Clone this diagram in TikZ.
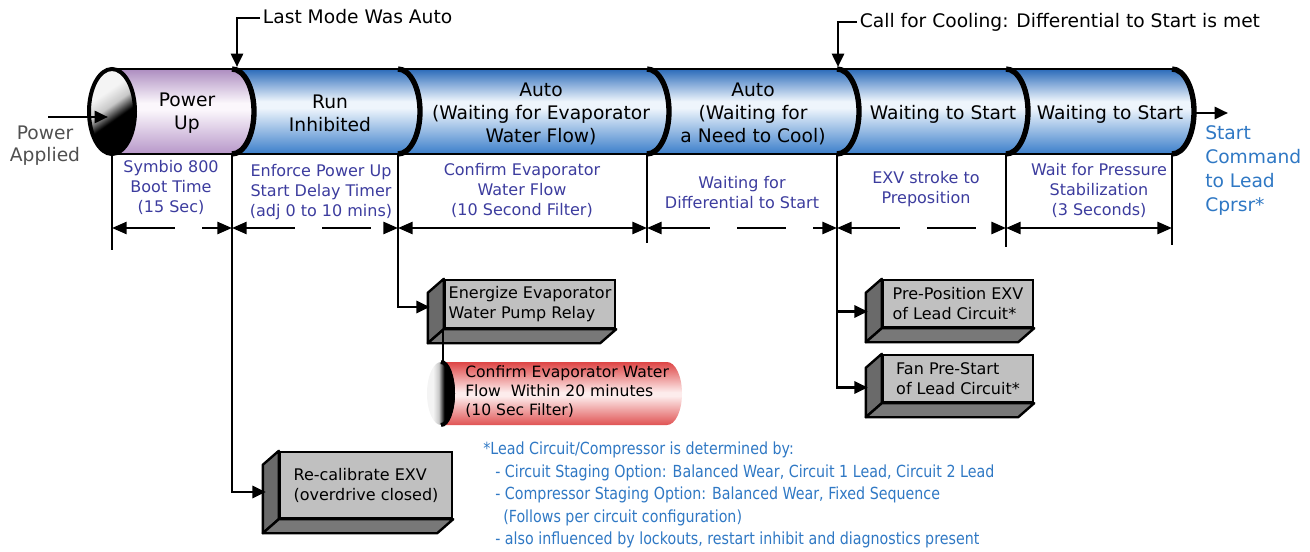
\documentclass[tikz,border=0pt]{standalone}
\usepackage{fontspec}
\setmainfont{DejaVu Sans}
\newfontfamily\notefont[FakeStretch=0.855]{DejaVu Sans}
\usetikzlibrary{arrows.meta,calc,shadings}
\definecolor{bTop}{HTML}{2B6BBA}
\definecolor{bMid}{HTML}{EEF5FC}
\definecolor{bBot}{HTML}{3B7ECA}
\definecolor{pTop}{HTML}{AD8DC0}
\definecolor{pMid}{HTML}{FBF7FC}
\definecolor{pBot}{HTML}{B797C9}
\definecolor{rTop}{HTML}{DE4545}
\definecolor{rMid}{HTML}{FDECEC}
\definecolor{rBot}{HTML}{E05353}
\definecolor{subblue}{HTML}{3C3C9E}
\definecolor{noteblue}{HTML}{2F78C4}
\definecolor{boxfront}{HTML}{C0C0C0}
\definecolor{boxside}{HTML}{6A6A6A}
\definecolor{boxbottom}{HTML}{787878}
\definecolor{labgray}{HTML}{505050}
\definecolor{faceLight}{HTML}{F4F4F4}
\definecolor{faceGray}{HTML}{C8C8C8}
\pgfdeclareverticalshading{bluecyl}{100bp}{color(0bp)=(bBot); color(25bp)=(bBot); color(52bp)=(bMid); color(56bp)=(bMid); color(75bp)=(bTop); color(100bp)=(bTop)}
\pgfdeclareverticalshading{purplecyl}{100bp}{color(0bp)=(pBot); color(25bp)=(pBot); color(51bp)=(pMid); color(55bp)=(pMid); color(75bp)=(pTop); color(100bp)=(pTop)}
\pgfdeclareverticalshading{redcyl}{100bp}{color(0bp)=(rBot); color(25bp)=(rBot); color(48bp)=(rMid); color(51bp)=(rMid); color(75bp)=(rTop); color(100bp)=(rTop)}
\pgfdeclareverticalshading{facesh}{100bp}{color(0bp)=(black); color(44bp)=(black); color(54bp)=(faceGray); color(64bp)=(faceLight); color(100bp)=(faceLight)}
\newcommand\boxfaces[1]{%
  \draw[line width=1.8pt, fill=boxside, line join=round] (#1.north west) -- ++(-16,14) -- ($(#1.south west)+(-16,14)$) -- (#1.south west) -- cycle;
  \draw[line width=1.8pt, fill=boxbottom, line join=round] (#1.south west) -- ++(-16,14) -- ($(#1.south east)+(-16,14)$) -- (#1.south east) -- cycle;
}
\begin{document}
\begin{tikzpicture}[x=0.75pt,y=-0.75pt,
  cyltext/.style={align=center, font=\fontsize{14}{17.25}\selectfont, text=black, inner sep=0pt},
  subtext/.style={align=center, font=\fontsize{12}{15}\selectfont, text=subblue, inner sep=0pt},
  toplab/.style={font=\fontsize{14}{17}\selectfont, text=black, inner sep=2pt},
  dimarrow/.style={line width=2pt, {Triangle[length=11pt,width=9pt]}-{Triangle[length=11pt,width=9pt]}},
  dimdash/.style={dimarrow, dash pattern=on 37pt off 20pt},
  bound/.style={line width=2pt},
  sepline/.style={line width=4pt},
  conn/.style={line width=2pt, -{Triangle[length=10pt,width=9pt]}},
  box3d/.style={draw=black, line width=1.8pt, fill=boxfront, align=left, font=\fontsize{12}{15}\selectfont, inner sep=2pt},
]
\useasboundingbox (0,0) rectangle (1310,552);

% ---- main cylinder segments ----
\shade[shading=purplecyl] (112,69) -- (232,69) arc[start angle=-90,end angle=90,x radius=22,y radius=42.5] -- (112,154) arc[start angle=90,end angle=-90,x radius=22,y radius=42.5] -- cycle;
\shade[shading=bluecyl] (232,69) -- (398,69) arc[start angle=-90,end angle=90,x radius=22,y radius=42.5] -- (232,154) arc[start angle=90,end angle=-90,x radius=22,y radius=42.5] -- cycle;
\shade[shading=bluecyl] (398,69) -- (647,69) arc[start angle=-90,end angle=90,x radius=22,y radius=42.5] -- (398,154) arc[start angle=90,end angle=-90,x radius=22,y radius=42.5] -- cycle;
\shade[shading=bluecyl] (647,69) -- (837,69) arc[start angle=-90,end angle=90,x radius=22,y radius=42.5] -- (647,154) arc[start angle=90,end angle=-90,x radius=22,y radius=42.5] -- cycle;
\shade[shading=bluecyl] (837,69) -- (1006,69) arc[start angle=-90,end angle=90,x radius=22,y radius=42.5] -- (837,154) arc[start angle=90,end angle=-90,x radius=22,y radius=42.5] -- cycle;
\shade[shading=bluecyl] (1006,69) -- (1172,69) arc[start angle=-90,end angle=90,x radius=22,y radius=42.5] -- (1006,154) arc[start angle=90,end angle=-90,x radius=22,y radius=42.5] -- cycle;

% outline
\draw[line width=1.3pt] (112,69) -- (1172,69);
\draw[line width=1.3pt] (112,154) -- (1172,154);
\foreach \xx in {232,398,647,837,1006,1172}
  \draw[sepline] (\xx,69) arc[start angle=-90,end angle=90,x radius=22,y radius=42.5];

% left end face
\shade[shading=facesh, shading angle=35] (112,111.5) ellipse[x radius=23, y radius=42.5];
\draw[line width=3pt] (112,111.5) ellipse[x radius=23, y radius=42.5];

% coordinates
\coordinate (s0) at (112,154);
\coordinate (s1) at (232,154);
\coordinate (s2) at (398,154);
\coordinate (s3) at (647,154);
\coordinate (s4) at (837,154);
\coordinate (s5) at (1006,154);
\coordinate (s6) at (1172,154);
\coordinate (d0) at (112,228);
\coordinate (d1) at (232,228);
\coordinate (d2) at (398,228);
\coordinate (d3) at (647,228);
\coordinate (d4) at (837,228);
\coordinate (d5) at (1006,228);
\coordinate (d6) at (1172,228);

% power applied
\node[font=\fontsize{14}{16.5}\selectfont, text=labgray, align=center, inner sep=0pt] (pa) at (45,146) {Power\\Applied};
\coordinate (pain) at (48,117);
\coordinate (paend) at (108,117);
\draw[conn] (pain) -- (paend);

% cylinder texts
\node[cyltext] (pu) at (187,113) {Power\\Up};
\node[cyltext] (ri) at (330,113) {Run\\Inhibited};
\node[cyltext] (a1) at (541,114) {Auto\\(Waiting for Evaporator\\Water Flow)};
\node[cyltext] (a2) at (753,114) {Auto\\(Waiting for\\a Need to Cool)};
\node[cyltext] (w1) at (943,114) {Waiting to Start};
\node[cyltext] (w2) at (1110,114) {Waiting to Start};

% top labels
\node[toplab, anchor=base west] (lm) at (260,24) {Last Mode Was Auto};
\coordinate (t1) at (237,67);
\draw[conn] (lm.west |- 0,18) -| (t1);
\node[toplab, anchor=base west] (cc) at (857,28) {Call for Cooling: Differential to Start is met};
\coordinate (t4) at (838,67);
\draw[conn] (cc.west |- 0,22) -| (t4);

% end arrow and label
\coordinate (endc) at (1194,113);
\coordinate (endt) at (1228,113);
\draw[conn] (endc) -- (endt);
\node[font=\fontsize{14}{18}\selectfont, text=noteblue, align=left, anchor=west, inner sep=0pt] (sc) at (1205,171) {Start\\Command\\to Lead\\Cprsr*};

% sub texts
\node[subtext] (t_boot) at (171,187) {Symbio 800\\Boot Time\\(15 Sec)};
\node[subtext] (t_enf) at (321,192) {Enforce Power Up\\Start Delay Timer\\(adj 0 to 10 mins)};
\node[subtext] (t_conf) at (522,190) {Confirm Evaporator\\Water Flow\\(10 Second Filter)};
\node[subtext] (t_diff) at (742,192.5) {Waiting for\\Differential to Start};
\node[subtext] (t_exv) at (926,189) {EXV stroke to\\Preposition};
\node[subtext] (t_pres) at (1099,190) {Wait for Pressure\\Stabilization\\(3 Seconds)};

% boxes
\node[box3d, minimum width=127.5pt, minimum height=36pt] (b1) at (530,304) {Energize Evaporator\\Water Pump Relay};
\boxfaces{b1}
\node[box3d, minimum width=112.5pt, minimum height=35.25pt] (b2) at (958,303.5) {Pre-Position EXV\\of Lead Circuit*};
\boxfaces{b2}
\node[box3d, minimum width=112.5pt, minimum height=35.25pt] (b3) at (958,378.5) {Fan Pre-Start\\of Lead Circuit*};
\boxfaces{b3}
\node[box3d, minimum width=129pt, minimum height=49.5pt] (b4) at (366,485) {Re-calibrate EXV\\(overdrive closed)};
\boxfaces{b4}

% red cylinder
\shade[shading=redcyl] (441,362) -- (667,362) arc[start angle=-90,end angle=90,x radius=15,y radius=31.5] -- (441,425) -- cycle;
\shade[shading=facesh, shading angle=90] (441,393.5) ellipse[x radius=14, y radius=31.5];
\draw[line width=3pt] (441,362) arc[start angle=-90,end angle=90,x radius=12,y radius=31.5];
\node[anchor=west, align=left, font=\fontsize{11.7}{14.25}\selectfont, inner sep=0pt] (rc) at (465,392) {Confirm Evaporator Water\\Flow\ \ Within 20 minutes\\(10 Sec Filter)};
\coordinate (rtop) at (443,362);

% boundary verticals and connectors
\draw[bound] (s0) -- ++(0,96);
\draw[bound] (s3) -- ++(0,89);
\draw[bound] (s5) -- ++(0,93);
\draw[bound] (s6) -- ++(0,91);
\coordinate (p4) at ($(b4.west)+(-13,7)$);
\coordinate (p1) at ($(b1.west)+(-14,3)$);
\coordinate (p2) at ($(b2.west)+(-14,8)$);
\coordinate (p3) at ($(b3.west)+(-14,9)$);
\draw[conn] (s1) |- (p4);
\draw[conn] (s2) |- (p1);
\draw[conn] (s4) |- (p3);
\draw[conn] (s4 |- p2) -- (p2);
\draw[bound] (rtop |- b1.south west) -- (rtop);

% dimension arrows
\draw[dimdash] (d0) -- (d1);
\draw[dimdash] (d1) -- (d2);
\draw[dimarrow] (d2) -- (d3);
\draw[dimdash] (d3) -- (d4);
\draw[dimdash] (d4) -- (d5);
\draw[dimarrow] (d5) -- (d6);

% footnote
\node[anchor=west, align=left, inner sep=0pt, text=noteblue, font=\notefont\fontsize{12.5}{16.9}\selectfont] (fn) at (483,495) {*Lead Circuit/Compressor is determined by:\\
\hspace*{9pt}- Circuit Staging Option: Balanced Wear, Circuit 1 Lead, Circuit 2 Lead\\
\hspace*{9pt}- Compressor Staging Option: Balanced Wear, Fixed Sequence\\
\hspace*{15pt}(Follows per circuit configuration)\\
\hspace*{9pt}- also influenced by lockouts, restart inhibit and diagnostics present};
\end{tikzpicture}
\end{document}
